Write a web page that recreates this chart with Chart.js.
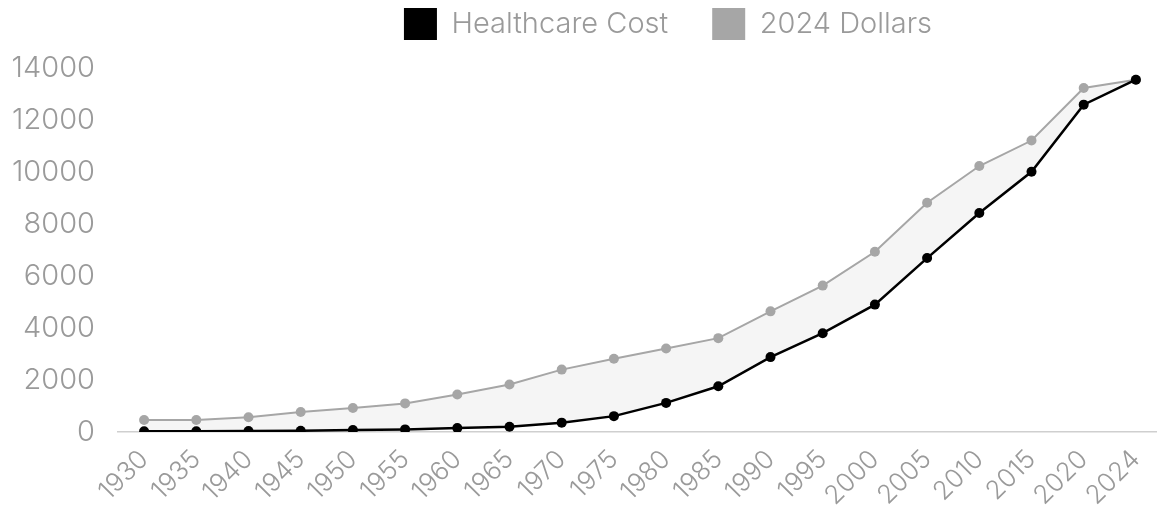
<!DOCTYPE html>
<html>
<head>
<meta charset="utf-8">
<script src="https://cdn.jsdelivr.net/npm/chart.js@4/dist/chart.umd.min.js"></script>
<style>
  html, body { margin: 0; padding: 0; background: #fff; overflow: hidden; }
  /* a little wider than the window: the original plot runs past the right edge */
  #wrap { width: 1167px; height: 515px; position: relative; }
</style>
</head>
<body>
<div id="wrap"><canvas id="cost-chart"></canvas></div>
<script>
const years = ['1930', '1935', '1940', '1945', '1950', '1955', '1960', '1965', '1970', '1975',
               '1980', '1985', '1990', '1995', '2000', '2005', '2010', '2015', '2020', '2024'];
const healthcareCost = [30, 30, 40, 50, 80, 100, 150, 200, 360, 610,
                        1120, 1760, 2880, 3800, 4900, 6690, 8420, 10010, 12590, 13550];
const dollars2024 = [460, 460, 570, 770, 920, 1100, 1440, 1830, 2400, 2820,
                     3210, 3610, 4640, 5630, 6930, 8820, 10230, 11210, 13230, 13550];
const yTicks = [0, 2000, 4000, 6000, 8000, 10000, 12000, 14000];

const fontFamily = 'Inter, "Noto Sans", sans-serif';
const textColor = '#9a9a9a';

// legend sits a bit right of centre and has extra room below it
const legendTweak = {
    id: 'legendTweak',
    afterInit(chart) {
        const origFit = chart.legend.fit;
        chart.legend.fit = function() {
            origFit.call(this);
            this.height += 18;
        };
    },
    afterLayout(chart) {
        chart.legend.left += 82;
        chart.legend.right += 82;
    }
};

const ctx = document.getElementById('cost-chart').getContext('2d');
new Chart(ctx, {
    type: 'line',
    data: {
        labels: years,
        datasets: [
            {
                label: 'Healthcare Cost',
                data: healthcareCost,
                borderColor: '#000',
                backgroundColor: '#000',
                borderWidth: 2.5,
                pointRadius: 5,
                pointBackgroundColor: '#000',
                pointBorderWidth: 0,
                fill: false,
                tension: 0
            },
            {
                label: '2024 Dollars',
                data: dollars2024,
                borderColor: '#a6a6a6',
                backgroundColor: '#a6a6a6',
                borderWidth: 2,
                pointRadius: 5,
                pointBackgroundColor: '#a6a6a6',
                pointBorderWidth: 0,
                fill: { target: '-1', above: 'rgba(0, 0, 0, 0.04)', below: 'rgba(0, 0, 0, 0.04)' },
                tension: 0
            }
        ]
    },
    plugins: [legendTweak],
    options: {
        responsive: true,
        maintainAspectRatio: false,
        animation: false,
        // negative top so the wide legend padding doesn't push everything down
        layout: { padding: { left: 0, right: -5, top: -36, bottom: 0 } },
        plugins: {
            legend: {
                position: 'top',
                labels: {
                    boxWidth: 33,
                    boxHeight: 32,
                    padding: 44,
                    color: textColor,
                    font: { family: fontFamily, size: 29, weight: '300' },
                    generateLabels: function(chart) {
                        return chart.data.datasets.map(function(ds, i) {
                            return {
                                text: ds.label,
                                fillStyle: ds.borderColor,
                                strokeStyle: ds.borderColor,
                                lineWidth: 0,
                                fontColor: textColor,
                                datasetIndex: i
                            };
                        });
                    }
                }
            },
            tooltip: { enabled: false }
        },
        scales: {
            x: {
                offset: true,
                grid: { display: false, drawTicks: false },
                border: { display: true, color: '#cfcfcf', width: 1.5 },
                ticks: {
                    color: textColor,
                    autoSkip: false,
                    minRotation: 45,
                    maxRotation: 45,
                    padding: 12,
                    font: { family: fontFamily, size: 26, weight: '300' }
                },
                afterFit: function(scale) {
                    scale.height = 83;
                    scale.paddingLeft = 0;
                    scale.paddingRight = -5;
                }
            },
            y: {
                min: 0,
                max: 14000,
                afterBuildTicks: function(axis) {
                    axis.ticks = yTicks.map(v => ({ value: v }));
                },
                afterFit: function(scale) {
                    scale.width = 118;
                },
                grid: { display: false },
                border: { display: false },
                ticks: {
                    color: textColor,
                    padding: 15,
                    font: { family: fontFamily, size: 29, weight: '300' },
                    callback: function(value) { return String(value); }
                }
            }
        }
    }
});
</script>
</body>
</html>
